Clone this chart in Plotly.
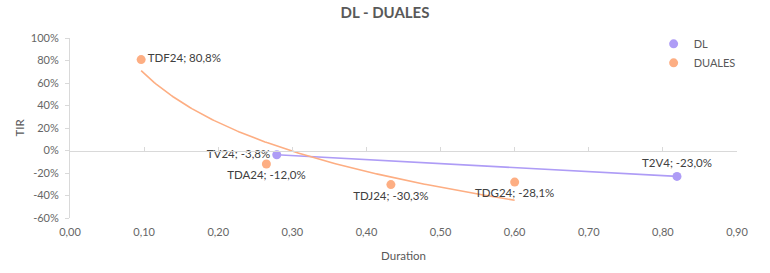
import numpy as np
import plotly.graph_objects as go

# Data
dl_names = ["TV24", "T2V4"]
dl_duration = [0.279, 0.819]
dl_tir = [-0.038, -0.230]
dl_textpos = ["middle left", "top center"]

duales_names = ["TDF24", "TDA24", "TDJ24", "TDG24"]
duales_duration = [0.096, 0.265, 0.433, 0.600]
duales_tir = [0.808, -0.120, -0.303, -0.281]
duales_textpos = ["middle right", "bottom center", "bottom center", "bottom center"]

x_ticks = [0.0, 0.1, 0.2, 0.3, 0.4, 0.5, 0.6, 0.7, 0.8, 0.9]
y_ticks = [-0.6, -0.4, -0.2, 0.0, 0.2, 0.4, 0.6, 0.8, 1.0]

C_DL = "#AE9CF6"
C_DU = "#FDAE83"
GRAY = "#595959"
FONT = "Lato"

def fmt_pct(v):
    return f"{v*100:.1f}%".replace(".", ",")

def labels(names, vals):
    return [f"{n}; {fmt_pct(v)}" for n, v in zip(names, vals)]

fig = go.Figure()

# DL linear trendline
a1, b1 = np.polyfit(dl_duration, dl_tir, 1)
xs1 = np.linspace(min(dl_duration), max(dl_duration), 50)
fig.add_trace(go.Scatter(x=xs1, y=a1 * xs1 + b1, mode="lines",
                         line=dict(color=C_DL, width=1.6), showlegend=False, hoverinfo="skip"))

# DUALES log trendline
la, lb = np.polyfit(np.log(duales_duration), duales_tir, 1)
xs2 = np.linspace(min(duales_duration), max(duales_duration), 200)
fig.add_trace(go.Scatter(x=xs2, y=la * np.log(xs2) + lb, mode="lines",
                         line=dict(color=C_DU, width=1.6), showlegend=False, hoverinfo="skip"))

fig.add_trace(go.Scatter(x=dl_duration, y=dl_tir, mode="markers+text", name="DL",
                         marker=dict(color=C_DL, size=9),
                         text=labels(dl_names, dl_tir), textposition=dl_textpos,
                         textfont=dict(family=FONT, size=11.5, color="#404040")))
fig.add_trace(go.Scatter(x=duales_duration, y=duales_tir, mode="markers+text", name="DUALES",
                         marker=dict(color=C_DU, size=9),
                         text=labels(duales_names, duales_tir), textposition=duales_textpos,
                         textfont=dict(family=FONT, size=11.5, color="#404040")))

# invisible trace to carry the zero-line axis with ticks
fig.add_trace(go.Scatter(x=[0, 0.9], y=[0, 0], mode="lines", xaxis="x2",
                         line=dict(color="rgba(0,0,0,0)"), showlegend=False, hoverinfo="skip"))

fig.update_layout(
    width=770, height=273,
    margin=dict(l=70, r=33, t=38, b=55),
    paper_bgcolor="white", plot_bgcolor="white",
    font=dict(family=FONT, size=11, color=GRAY),
    title=dict(text="<b>DL - DUALES</b>", x=0.5, xanchor="center", y=0.955, yanchor="middle",
               font=dict(family=FONT, size=15, color=GRAY), automargin=False),
    xaxis=dict(range=[0, 0.9], tickvals=x_ticks, automargin=False,
               ticktext=[f"{v:.2f}".replace(".", ",") for v in x_ticks],
               showgrid=False, zeroline=False, showline=False, ticks="",
               ticklabelstandoff=6,
               title=dict(text="Duration", font=dict(size=11.5, color=GRAY), standoff=14),
               tickfont=dict(size=11, color="#666666")),
    xaxis2=dict(range=[0, 0.9], overlaying="x", anchor="free", position=0.375,
                tickvals=x_ticks, showticklabels=False, showgrid=False, zeroline=False,
                showline=True, linecolor="#D9D9D9", linewidth=1, automargin=False,
                ticks="inside", ticklen=4, tickcolor="#D9D9D9"),
    yaxis=dict(range=[-0.6, 1.0], tickvals=y_ticks, automargin=False,
               ticktext=[f"{round(v*100)}%" for v in y_ticks],
               showgrid=False, zeroline=False, showline=True, linecolor="#D9D9D9",
               ticks="outside", ticklen=4, tickcolor="#D9D9D9",
               ticklabelstandoff=4,
               title=dict(text="TIR", font=dict(size=11.5, color=GRAY), standoff=3),
               tickfont=dict(size=11, color="#666666")),
    legend=dict(x=0.875, y=1.048, xanchor="left", yanchor="top", bgcolor="rgba(0,0,0,0)",
                font=dict(size=11, color=GRAY), itemsizing="trace", itemwidth=30,
                tracegroupgap=0),
)

fig.write_html("out.html", config={"displayModeBar": False},
               post_script="document.body.style.margin='0';")
